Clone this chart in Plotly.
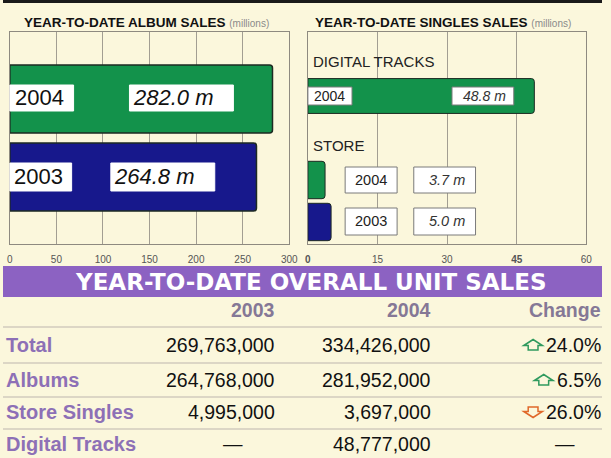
import plotly.graph_objects as go

# ---------------- data ----------------
album_years = ["2003", "2004"]
album_sales = [264.8, 282.0]            # millions

singles_groups = ["Store 2003", "Store 2004", "Digital 2004"]
singles_years = ["2003", "2004", "2004"]
singles_sales = [5.0, 3.7, 48.8]        # millions

album_ticks = [0, 50, 100, 150, 200, 250, 300]
singles_ticks = [0, 15, 30, 45, 60]

table_title = "YEAR-TO-DATE OVERALL UNIT SALES"
table_columns = ["2003", "2004", "Change"]
table_rows = ["Total", "Albums", "Store Singles", "Digital Tracks"]
units_2003 = [269763000, 264768000, 4995000, None]
units_2004 = [334426000, 281952000, 3697000, 48777000]
change_pct = [24.0, 6.5, -26.0, None]

# ---------------- styling / layout helpers ----------------
W, H = 611, 458
BG = "#fbf7dc"
GREEN = "#13924b"
NAVY = "#17188c"
YEAR_COLOR = {"2003": NAVY, "2004": GREEN}
PURPLE = "#8c62c2"
LABEL_PURPLE = "#8d70b6"
HEADER_COL = "#857896"
GRID = "#a29e92"
FRAME = "#8e8a80"
ARIAL = "Liberation Sans, Arial, sans-serif"
TBL = "Liberation Sans Narrow, Liberation Sans, Arial, sans-serif"
TSIZE = 19.5
PAD = 3  # annotation inner padding compensation


def px(x):
    return x / W


def py(y):
    return 1 - y / H


fig = go.Figure()

# album bars
fig.add_trace(go.Bar(
    y=album_years, x=album_sales, orientation="h",
    marker=dict(color=[YEAR_COLOR[y] for y in album_years],
                line=dict(color="#1d2a22", width=1.5)),
    width=0.87, xaxis="x", yaxis="y", hoverinfo="skip",
))

# singles bars
fig.add_trace(go.Bar(
    y=singles_groups, x=singles_sales, orientation="h",
    marker=dict(color=[YEAR_COLOR[y] for y in singles_years],
                line=dict(color="#1d2a22", width=1)),
    width=[0.89, 0.89, 0.83], xaxis="x2", yaxis="y2", hoverinfo="skip",
))

axis_common = dict(showgrid=True, gridcolor=GRID, gridwidth=1, showline=True,
                   linecolor=FRAME, linewidth=1, mirror=True, zeroline=False,
                   ticks="", tickfont=dict(family=ARIAL, size=10, color="#555"),
                   ticklabelstandoff=6, fixedrange=True)

fig.update_layout(
    width=W, height=H, margin=dict(l=0, r=0, t=0, b=0),
    paper_bgcolor=BG, plot_bgcolor=BG, showlegend=False,
    barcornerradius=3,
    xaxis=dict(domain=[px(7), px(292)], range=[0, 300], tickvals=album_ticks,
               anchor="y", **axis_common),
    yaxis=dict(domain=[py(244), py(32)], type="category", categoryorder="array",
               categoryarray=album_years, range=[-0.859, 1.859],
               showticklabels=False, showgrid=False, showline=True, mirror=True,
               linecolor=FRAME, zeroline=False, anchor="x", fixedrange=True),
    xaxis2=dict(domain=[px(311), px(595)], range=[0, 60], tickvals=singles_ticks,
                ticktext=["<b>0</b>", "15", "30", "<b>45</b>", "60"],
                anchor="y2", **axis_common),
    yaxis2=dict(domain=[py(244), py(32)], type="category", categoryorder="array",
                categoryarray=["Store 2003", "Store 2004", "STORE", "Digital 2004"],
                range=[-0.524, 4.524],
                showticklabels=False, showgrid=False, showline=True, mirror=True,
                linecolor=FRAME, zeroline=False, anchor="x2", fixedrange=True),
)

shapes = []
ann = []

# top dark band
shapes.append(dict(type="rect", xref="paper", yref="paper", x0=0, x1=1,
                   y0=py(3), y1=1, fillcolor="#1a1a1a", line=dict(width=0), layer="above"))


def box(x0, y0, x1, y1, border=False):
    shapes.append(dict(type="rect", xref="paper", yref="paper",
                       x0=px(x0), x1=px(x1), y0=py(y1), y1=py(y0),
                       fillcolor="white",
                       line=dict(color="#7a7a7a" if border else "white", width=1),
                       layer="above"))


def text(t, x, y, size, family=ARIAL, color="#111", xanchor="left", italic=False, bold=False):
    if bold:
        t = f"<b>{t}</b>"
    if italic:
        t = f"<i>{t}</i>"
    if xanchor == "left":
        x -= PAD
    elif xanchor == "right":
        x += PAD
    ann.append(dict(text=t, x=px(x), y=py(y), xref="paper", yref="paper",
                    xanchor=xanchor, yanchor="middle", showarrow=False, borderpad=0,
                    font=dict(family=family, size=size, color=color)))


# titles
for t, x0 in [("YEAR-TO-DATE ALBUM SALES", 23), ("YEAR-TO-DATE SINGLES SALES", 320)]:
    ann.append(dict(text=f"<b>{t}</b> <span style='font-size:10px;color:#8a8a8a'>(millions)</span>",
                    x=px(x0 - PAD), y=py(22), xref="paper", yref="paper", xanchor="left",
                    yanchor="middle", showarrow=False, borderpad=0,
                    font=dict(family=ARIAL, size=13.5, color="#111")))

# album labels
album_label_pos = {"2004": dict(yb=(85, 111), yrbox=(7, 72), vbox=(129, 235), ytext=14, vtext=135, yc=98),
                   "2003": dict(yb=(163, 191), yrbox=(7, 70), vbox=(110, 216), ytext=13, vtext=115, yc=177)}
for yr, v in zip(album_years, album_sales):
    p = album_label_pos[yr]
    box(p["yrbox"][0], p["yb"][0], p["yrbox"][1], p["yb"][1])
    box(p["vbox"][0], p["yb"][0], p["vbox"][1], p["yb"][1])
    text(yr, p["ytext"], p["yc"], 22)
    text(f"{v:.1f} m", p["vtext"], p["yc"], 22, italic=True)

# singles labels
text("DIGITAL TRACKS", 318, 62, 15, color="#222")
text("STORE", 318, 146, 15, color="#222")
singles_label_pos = {
    "Digital 2004": dict(yb=(87, 105), yrbox=(311, 356), vbox=(458, 521), yc=96, size=14),
    "Store 2004": dict(yb=(167, 193), yrbox=(349, 402), vbox=(419, 482), yc=180, size=14.5),
    "Store 2003": dict(yb=(208, 235), yrbox=(349, 402), vbox=(419, 482), yc=221.5, size=14.5),
}
for g, yr, v in zip(singles_groups, singles_years, singles_sales):
    p = singles_label_pos[g]
    box(p["yrbox"][0], p["yb"][0], p["yrbox"][1], p["yb"][1], border=True)
    box(p["vbox"][0], p["yb"][0], p["vbox"][1], p["yb"][1], border=True)
    text(yr, (p["yrbox"][0] + p["yrbox"][1]) / 2, p["yc"], p["size"], xanchor="center", color="#222")
    text(f"{v:.1f} m", (p["vbox"][0] + p["vbox"][1]) / 2 + 2, p["yc"], p["size"],
         xanchor="center", italic=True, color="#333")

# ---------------- table ----------------
shapes.append(dict(type="rect", xref="paper", yref="paper", x0=0, x1=1,
                   y0=py(297), y1=py(266), fillcolor=PURPLE, line=dict(width=0), layer="below"))
text(table_title, 314, 282, 23, family="DejaVu Sans, sans-serif", color="white",
     xanchor="center", bold=True)

col_right = [275, 435, 608]
for c, xr in zip(table_columns, col_right):
    text(c, xr, 310, TSIZE, family=TBL, color=HEADER_COL, xanchor="right", bold=True)

for ysep in [327, 363, 397, 429]:
    shapes.append(dict(type="line", xref="paper", yref="paper", x0=0, x1=1,
                       y0=py(ysep), y1=py(ysep), line=dict(color="#bdb5ae", width=1)))

row_y = [345, 380, 412, 444]
CHW = {c: 0.556 for c in "0123456789"}
CHW.update({".": 0.278, "%": 0.889, ",": 0.278})


def text_width(s, size=TSIZE):
    return sum(CHW.get(c, 0.556) for c in s) * size


def arrow(cx, cy, up, color):
    s = 1 if up else -1
    pts = [(cx - 9.5, cy + s * 0.5), (cx, cy - s * 5.5), (cx + 9.5, cy + s * 0.5),
           (cx + 5, cy + s * 0.5), (cx + 5, cy + s * 5), (cx - 5, cy + s * 5),
           (cx - 5, cy + s * 0.5)]
    path = "M " + " L ".join(f"{px(x):.5f},{py(y):.5f}" for x, y in pts) + " Z"
    shapes.append(dict(type="path", xref="paper", yref="paper", path=path,
                       line=dict(color=color, width=1.5), fillcolor="rgba(0,0,0,0)"))


for r, v3, v4, ch, yy in zip(table_rows, units_2003, units_2004, change_pct, row_y):
    text(r, 5, yy, TSIZE + 0.5, family=TBL, color=LABEL_PURPLE, bold=True)
    if v3 is None:
        text("—", 235, yy, TSIZE, family=TBL, xanchor="center")
    else:
        text(f"{v3:,}", col_right[0], yy, TSIZE, family=TBL, xanchor="right")
    if v4 is None:
        text("—", 395, yy, TSIZE, family=TBL, xanchor="center")
    else:
        text(f"{v4:,}", col_right[1], yy, TSIZE, family=TBL, xanchor="right")
    if ch is None:
        text("—", 573, yy, TSIZE, family=TBL, xanchor="center")
    else:
        s = f"{abs(ch):.1f}%"
        text(s, col_right[2], yy, TSIZE, family=TBL, xanchor="right")
        left = col_right[2] - text_width(s)
        arrow(left - 12, yy, ch > 0, "#2f9a5e" if ch > 0 else "#e0682a")

fig.update_layout(shapes=shapes, annotations=ann)
fig.write_html("out.html", config={"displayModeBar": False},
               post_script="document.body.style.margin='0';document.body.style.padding='0';")
